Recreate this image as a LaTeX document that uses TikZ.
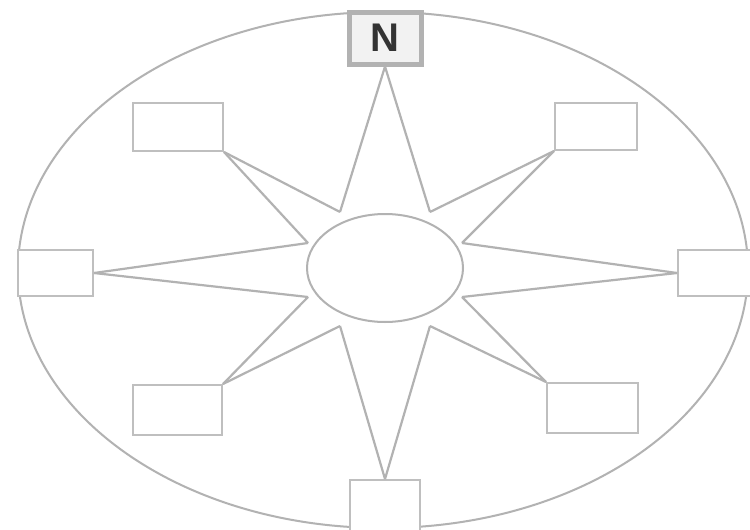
\documentclass[tikz,border=0pt]{standalone}
\usepackage{fontspec}
\setsansfont{Liberation Sans}
\usetikzlibrary{shapes.geometric}
\begin{document}
\begin{tikzpicture}[x=1pt,y=-1pt,
  ray/.style={draw=black!30,line width=2.2pt},
  rim/.style={draw=black!30,line width=2pt},
  blank/.style={draw=black!25,line width=2pt,fill=white,rectangle,inner sep=0pt},
  northbox/.style={draw=black!30,line width=5pt,fill=black!5,rectangle,inner sep=0pt,
    font=\sffamily\bfseries\fontsize{40}{40}\selectfont,text=black!80}]
\useasboundingbox (0,0) rectangle (750,530);
\fill[white] (0,0) rectangle (750,530);
% outer ellipse
\node[rim,ellipse,minimum width=730,minimum height=516,inner sep=0pt] (outer) at (383,270) {};
% inner star vertices
\coordinate (nnw) at (340,212);
\coordinate (nne) at (430,212);
\coordinate (ene) at (462,243);
\coordinate (ese) at (462,297);
\coordinate (sse) at (430,326);
\coordinate (ssw) at (340,326);
\coordinate (wsw) at (308,297);
\coordinate (wnw) at (308,243);
% boxes
\node[blank,minimum width=90,minimum height=48] (nw) at (178,127) {};
\node[blank,minimum width=82,minimum height=47] (ne) at (596,126.5) {};
\node[blank,minimum width=89,minimum height=50] (sw) at (177.5,410) {};
\node[blank,minimum width=91,minimum height=50] (se) at (592.5,408) {};
\node[blank,minimum width=75,minimum height=46] (w) at (55.5,273) {};
\node[blank,minimum width=74,minimum height=46] (e) at (715,273) {};
\node[blank,minimum width=70,minimum height=52] (s) at (385,506) {};
\node[northbox,minimum width=72,minimum height=52] (n) at (385,38) {N};
% star rays
\draw[ray] (n.south) -- (nnw);
\draw[ray] (n.south) -- (nne);
\draw[ray] (ne.south west) -- (nne);
\draw[ray] (ne.south west) -- (ene);
\draw[ray] (e.west) -- (ene);
\draw[ray] (e.west) -- (ese);
\draw[ray] (se.north west) -- (ese);
\draw[ray] (se.north west) -- (sse);
\draw[ray] (s.north) -- (sse);
\draw[ray] (s.north) -- (ssw);
\draw[ray] (sw.north east) -- (ssw);
\draw[ray] (sw.north east) -- (wsw);
\draw[ray] (w.east) -- (wsw);
\draw[ray] (w.east) -- (wnw);
\draw[ray] (nw.south east) -- (wnw);
\draw[ray] (nw.south east) -- (nnw);
% inner ellipse
\node[rim,ellipse,fill=white,minimum width=156,minimum height=108,inner sep=0pt] (hub) at (385,268) {};
\end{tikzpicture}
\end{document}
